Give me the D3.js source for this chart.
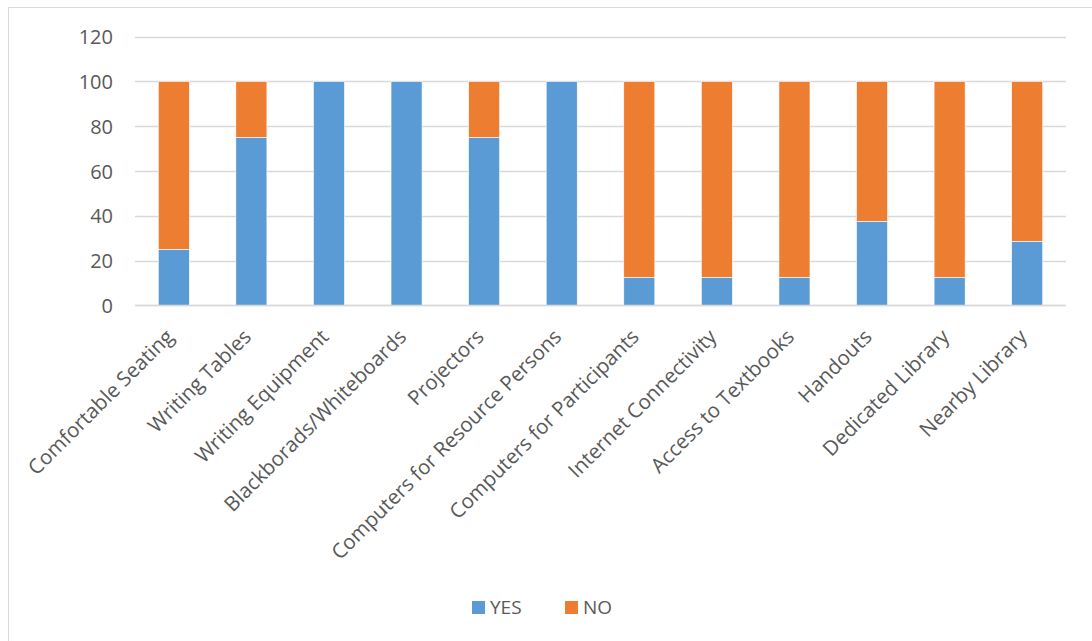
<!DOCTYPE html>
<html>
<head>
<meta charset="utf-8">
<script src="https://cdn.jsdelivr.net/npm/d3@7"></script>
<style>
  html, body { margin: 0; padding: 0; background: #fff; }
  svg { display: block; }
  text { font-family: "Open Sans", "Noto Sans", sans-serif; fill: #595959; }
</style>
</head>
<body>
<svg id="chart" width="1092" height="641"></svg>
<script>
const categories = ["Comfortable Seating", "Writing Tables", "Writing Equipment", "Blackborads/Whiteboards",
  "Projectors", "Computers for Resource Persons", "Computers for Participants", "Internet Connectivity",
  "Access to Textbooks", "Handouts", "Dedicated Library", "Nearby Library"];
const yesValues = [25, 75, 100, 100, 75, 100, 12.5, 12.5, 12.5, 37.5, 12.5, 28.6];
const noValues  = [75, 25, 0, 0, 25, 0, 87.5, 87.5, 87.5, 62.5, 87.5, 71.4];
const seriesNames = ["YES", "NO"];
const seriesColors = ["#5b9bd5", "#ed7d31"];
const yTicks = [0, 20, 40, 60, 80, 100, 120];

const svg = d3.select("#chart");

// frame
svg.append("path").attr("d", "M8.5,641 V7.5 H1092")
  .attr("fill", "none").attr("stroke", "#d9d9d9").attr("stroke-width", 1);

const x = d3.scaleBand().domain(categories).range([135, 1066]).paddingInner(0.6).paddingOuter(0.3);
const y = d3.scaleLinear().domain([0, 120]).range([305.3, 36.7]);

// gridlines
svg.append("g").selectAll("line").data(yTicks).join("line")
  .attr("x1", 135).attr("x2", 1066)
  .attr("y1", d => Math.round(y(d)) + 0.5).attr("y2", d => Math.round(y(d)) + 0.5)
  .attr("stroke", "#d9d9d9").attr("stroke-width", 1.3);

// y axis labels
const yAxis = d3.axisLeft(y).tickValues(yTicks).tickSize(0).tickPadding(0);
const yg = svg.append("g").attr("transform", "translate(113,0)").call(yAxis);
yg.select(".domain").remove();
yg.selectAll("text").style("font-size", "20px").attr("fill", "#595959")
  .attr("dy", "0.36em");

// stacked data
const rows = categories.map((c, i) => ({ cat: c, YES: yesValues[i], NO: noValues[i] }));
const stack = d3.stack().keys(seriesNames)(rows);

svg.append("g").selectAll("g").data(stack).join("g")
  .attr("fill", (d, i) => seriesColors[i])
  .selectAll("rect").data(d => d).join("rect")
  .attr("x", d => x(d.data.cat))
  .attr("width", x.bandwidth())
  .attr("y", d => y(d[1]))
  .attr("height", d => Math.max(0, y(d[0]) - y(d[1])))
  .attr("stroke", "#ffffff").attr("stroke-width", 0.6);

// x axis baseline
svg.append("line").attr("x1", 135).attr("x2", 1066)
  .attr("y1", Math.round(y(0)) + 0.5).attr("y2", Math.round(y(0)) + 0.5)
  .attr("stroke", "#d9d9d9").attr("stroke-width", 1.3);

// x labels
const xAxis = d3.axisBottom(x).tickSize(0).tickPadding(0);
const xg = svg.append("g").attr("transform", "translate(0,305)").call(xAxis);
xg.select(".domain").remove();
xg.selectAll("text")
  .style("font-size", "20.5px").attr("fill", "#595959")
  .attr("text-anchor", "end")
  .attr("dy", null).attr("y", null)
  .attr("transform", "translate(1,33) rotate(-45)");

// legend
const legend = svg.append("g");
const legendItems = [{ name: "YES", x: 472 }, { name: "NO", x: 565 }];
legendItems.forEach((it, i) => {
  legend.append("rect").attr("x", it.x).attr("y", 601).attr("width", 13).attr("height", 13)
    .attr("fill", seriesColors[i]);
  legend.append("text").attr("x", it.x + 18).attr("y", 607.5).attr("dy", "0.36em")
    .style("font-size", "19px").text(it.name);
});
</script>
</body>
</html>
